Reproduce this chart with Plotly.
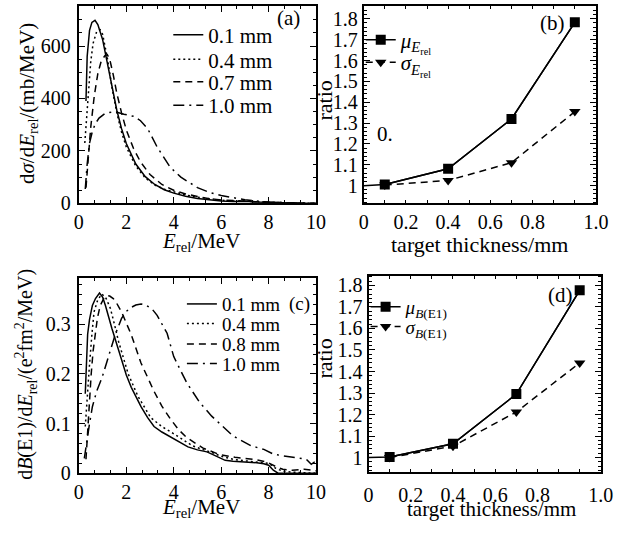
import plotly.graph_objects as go

FONT = "Liberation Serif"
W, H = 642, 537

# ---------------- panel (a): dσ/dE_rel (mb/MeV) ----------------
e_a01 = [0.30, 0.35, 0.45, 0.55, 0.68, 0.80, 1.00, 1.20, 1.40, 1.60, 1.80, 2.00, 2.40, 2.80,
         3.20, 3.60, 4.00, 4.50, 5.00, 5.50, 6.00, 6.50, 7.00, 7.50, 8.00, 9.00, 10.0]
xs_a01 = [390, 560, 660, 690, 698, 682, 625, 535, 440, 355, 285, 228, 150, 102,
          72, 52, 39, 27, 19, 13, 9, 7, 8, 5, 3, 1, 0]

e_a04 = [0.25, 0.30, 0.40, 0.50, 0.60, 0.75, 0.90, 1.00, 1.20, 1.40, 1.60, 1.80, 2.00, 2.40,
         2.80, 3.20, 3.60, 4.00, 4.50, 5.00, 5.50, 6.00, 6.50, 7.00, 7.50, 8.00, 9.00, 10.0]
xs_a04 = [230, 300, 430, 540, 610, 655, 662, 645, 555, 440, 345, 272, 215, 142,
          97, 70, 54, 43, 32, 24, 17, 12, 9, 9, 6, 4, 1, 0]

e_a07 = [0.30, 0.40, 0.50, 0.65, 0.80, 0.95, 1.10, 1.20, 1.30, 1.45, 1.60, 1.80, 2.00, 2.30,
         2.60, 3.00, 3.50, 4.00, 4.50, 5.00, 5.50, 6.00, 6.50, 7.00, 7.50, 8.00, 9.00, 10.0]
xs_a07 = [60, 180, 290, 410, 495, 545, 563, 567, 550, 490, 420, 345, 280, 210,
          158, 110, 72, 50, 36, 26, 18, 13, 10, 9, 6, 4, 2, 0]

e_a10 = [0.27, 0.35, 0.45, 0.57, 0.70, 0.85, 1.10, 1.50, 1.90, 2.35, 2.60, 2.90, 3.30, 3.85,
         4.30, 5.00, 5.50, 6.00, 6.50, 7.00, 7.50, 8.00, 9.00, 10.0]
xs_a10 = [55, 150, 230, 275, 305, 325, 343, 350, 340, 331, 315, 285, 215, 138,
          100, 60, 42, 30, 22, 14, 9, 5, 2, 0]

# ---------------- panel (b): ratios vs target thickness ----------------
thick_mu = [0.0, 0.1, 0.4, 0.7, 1.0]
mu_erel = [1.000, 1.006, 1.081, 1.320, 1.783]
thick_sig = [0.1, 0.4, 0.7, 1.0]
sig_erel = [1.003, 1.025, 1.110, 1.355]

# ---------------- panel (c): dB(E1)/dE_rel ----------------
e_c01 = [0.27, 0.32, 0.37, 0.45, 0.57, 0.70, 0.87, 1.00, 1.12, 1.39, 1.60, 1.80, 2.00, 2.21,
         2.62, 2.90, 3.17, 3.50, 3.85, 4.26, 4.60, 5.00, 5.40, 5.63, 6.00, 6.17, 6.50, 7.00,
         7.50, 7.80, 8.00, 8.20, 8.40, 10.0]
b_c01 = [0.160, 0.240, 0.280, 0.310, 0.338, 0.352, 0.363, 0.355, 0.338, 0.292, 0.258, 0.226,
         0.198, 0.173, 0.134, 0.112, 0.094, 0.083, 0.074, 0.062, 0.053, 0.047, 0.043, 0.038,
         0.030, 0.026, 0.024, 0.023, 0.021, 0.019, 0.016, 0.006, 0.0, 0.0]

e_c04 = [0.27, 0.35, 0.44, 0.55, 0.64, 0.80, 0.98, 1.15, 1.33, 1.50, 1.67, 2.08, 2.49, 3.03,
         3.50, 3.85, 4.30, 4.80, 5.20, 5.60, 6.00, 6.50, 7.00, 7.50, 8.00, 8.30, 8.60, 9.00, 10.0]
b_c04 = [0.094, 0.160, 0.213, 0.280, 0.325, 0.350, 0.361, 0.352, 0.332, 0.300, 0.266, 0.200,
         0.155, 0.112, 0.094, 0.084, 0.070, 0.055, 0.048, 0.042, 0.034, 0.028, 0.025, 0.022,
         0.020, 0.010, 0.004, 0.002, 0.0]

e_c08 = [0.30, 0.37, 0.44, 0.52, 0.60, 0.70, 0.78, 0.90, 1.05, 1.20, 1.30, 1.45, 1.60, 1.80,
         2.00, 2.21, 2.62, 3.17, 3.50, 3.85, 4.20, 4.54, 5.22, 5.90, 6.58, 7.40, 7.95, 8.36,
         8.60, 9.00, 9.50, 10.0]
b_c08 = [0.028, 0.090, 0.147, 0.200, 0.246, 0.285, 0.312, 0.338, 0.352, 0.358, 0.357, 0.352,
         0.342, 0.325, 0.303, 0.279, 0.222, 0.165, 0.135, 0.110, 0.088, 0.072, 0.051, 0.038,
         0.032, 0.028, 0.022, 0.012, 0.008, 0.006, 0.008, 0.005]

e_c10 = [0.23, 0.30, 0.45, 0.57, 0.75, 0.98, 1.26, 1.53, 1.80, 2.00, 2.20, 2.40, 2.62, 2.85,
         3.10, 3.30, 3.72, 4.00, 4.54, 5.10, 5.60, 6.00, 6.50, 7.27, 7.80, 8.22, 9.04, 9.59,
         9.80, 10.0]
b_c10 = [0.030, 0.055, 0.100, 0.134, 0.165, 0.193, 0.239, 0.279, 0.312, 0.326, 0.334, 0.339,
         0.341, 0.338, 0.330, 0.318, 0.282, 0.235, 0.183, 0.142, 0.115, 0.098, 0.075, 0.055,
         0.048, 0.038, 0.032, 0.028, 0.018, 0.025]

# ---------------- panel (d): ratios vs target thickness ----------------
mu_be1 = [1.000, 1.003, 1.064, 1.295, 1.777]
sig_be1 = [1.000, 1.053, 1.212, 1.440]

# tick labels
x_thick_ticks = [0, 0.2, 0.4, 0.6, 0.8, 1.1]
x_thick_text = ["0", "0.2", "0.4", "0.6", "0.8", "1.0"]
ratio_ticks = [1.0, 1.1, 1.2, 1.3, 1.4, 1.5, 1.6, 1.7, 1.8]
ratio_text = ["1", "1.1", "1.2", "1.3", "1.4", "1.5", "1.6", "1.7", "1.8"]

thick_labels_a = ["0.1 mm", "0.4 mm", "0.7 mm", "1.0 mm"]
thick_labels_c = ["0.1 mm", "0.4 mm", "0.8 mm", "1.0 mm"]


def px(x):
    return x / W


def py(y):
    return 1 - y / H


DASHES = ["solid", "2px,3px", "7px,5px", "11px,5px,2px,5px"]
LW = 1.5

fig = go.Figure()

# legends: one per entry so each row sits where it should
legend_rows = {}
n_leg = 0


def new_legend(x, y, size):
    global n_leg
    n_leg += 1
    name = "legend" if n_leg == 1 else f"legend{n_leg}"
    legend_rows[name] = dict(
        x=px(x), y=py(y), xanchor="left", yanchor="middle",
        bgcolor="rgba(0,0,0,0)", borderwidth=0,
        font=dict(family=FONT, size=size, color="black"),
        itemwidth=30, tracegroupgap=0,
    )
    return name


# panel (a)
for xs, ys, dash, lab, row in zip([e_a01, e_a04, e_a07, e_a10],
                                  [xs_a01, xs_a04, xs_a07, xs_a10],
                                  DASHES, thick_labels_a, [35, 60, 83, 107]):
    fig.add_trace(go.Scatter(x=xs, y=ys, mode="lines", name=lab,
                             line=dict(color="black", width=LW, dash=dash),
                             xaxis="x", yaxis="y",
                             legend=new_legend(168, row, 21)))

# panel (b)
fig.add_trace(go.Scatter(x=thick_sig, y=sig_erel, mode="lines+markers",
                         name="<i>σ</i><sub><i>E</i><sub>rel</sub></sub>",
                         line=dict(color="black", width=LW, dash="7px,5px"),
                         marker=dict(symbol="triangle-down", size=10, color="black"),
                         xaxis="x2", yaxis="y2", legend=new_legend(366, 63, 21)))
fig.add_trace(go.Scatter(x=thick_mu, y=mu_erel, mode="lines", showlegend=False,
                         line=dict(color="black", width=LW), xaxis="x2", yaxis="y2"))
fig.add_trace(go.Scatter(x=thick_mu[1:], y=mu_erel[1:], mode="lines+markers",
                         name="<i>μ</i><sub><i>E</i><sub>rel</sub></sub>",
                         line=dict(color="black", width=LW),
                         marker=dict(symbol="square", size=10, color="black"),
                         xaxis="x2", yaxis="y2", legend=new_legend(366, 40, 21)))

# panel (c)
for xs, ys, dash, lab, row in zip([e_c01, e_c04, e_c08, e_c10],
                                  [b_c01, b_c04, b_c08, b_c10],
                                  DASHES, thick_labels_c, [310, 330, 351, 371]):
    fig.add_trace(go.Scatter(x=xs, y=ys, mode="lines", name=lab,
                             line=dict(color="black", width=LW, dash=dash),
                             xaxis="x3", yaxis="y3",
                             legend=new_legend(182, row, 19)))

# panel (d)
fig.add_trace(go.Scatter(x=thick_sig, y=sig_be1, mode="lines+markers",
                         name="<i>σ</i><sub><i>B</i>(E1)</sub>",
                         line=dict(color="black", width=LW, dash="7px,5px"),
                         marker=dict(symbol="triangle-down", size=10, color="black"),
                         xaxis="x4", yaxis="y4", legend=new_legend(371, 333, 19)))
fig.add_trace(go.Scatter(x=thick_mu, y=mu_be1, mode="lines", showlegend=False,
                         line=dict(color="black", width=LW), xaxis="x4", yaxis="y4"))
fig.add_trace(go.Scatter(x=thick_mu[1:], y=mu_be1[1:], mode="lines+markers",
                         name="<i>μ</i><sub><i>B</i>(E1)</sub>",
                         line=dict(color="black", width=LW),
                         marker=dict(symbol="square", size=10, color="black"),
                         xaxis="x4", yaxis="y4", legend=new_legend(371, 313, 19)))

tickfont = dict(family=FONT, size=20, color="black")


def axis(domain, rng, anchor, **kw):
    d = dict(domain=domain, range=rng, anchor=anchor, showgrid=False, zeroline=False,
             showline=True, linecolor="black", linewidth=2, mirror="allticks",
             ticks="inside", ticklen=6, tickwidth=1.2, tickcolor="black",
             tickfont=tickfont, fixedrange=True)
    d.update(kw)
    return d


def minor(step, start=0):
    return dict(dtick=step, tick0=start, ticklen=3, ticks="inside", tickcolor="black")


xa_dom = [px(76), px(320)]
ya_dom = [py(207), py(5)]
xb_dom = [px(369), px(608)]
xc_dom = [px(76), px(320)]
yc_dom = [py(483), py(283)]
xd_dom = [px(374), px(613)]
yd_dom = [py(482), py(281)]

fig.update_layout(
    width=W, height=H, margin=dict(l=0, r=0, t=0, b=0),
    paper_bgcolor="white", plot_bgcolor="white",
    font=dict(family=FONT, size=20, color="black"),
    xaxis=axis(xa_dom, [0, 10], "y", tickvals=[0, 2, 4, 6, 8, 10], minor=minor(2 / 3)),
    yaxis=axis(ya_dom, [0, 753], "x", tickvals=[0, 200, 400, 600], minor=minor(50),
               ticklabelstandoff=2),
    xaxis2=axis(xb_dom, [0, 1.1], "y2", tickvals=x_thick_ticks, ticktext=x_thick_text,
                ticklen=3, minor=minor(0.1)),
    yaxis2=axis(ya_dom, [0.915, 1.862], "x2", tickvals=ratio_ticks, ticktext=ratio_text,
                minor=minor(0.02, 1.0)),
    xaxis3=axis(xc_dom, [0, 10], "y3", tickvals=[0, 2, 4, 6, 8, 10], minor=minor(2 / 3)),
    yaxis3=axis(yc_dom, [0, 0.394], "x3", tickvals=[0, 0.1, 0.2, 0.3],
                ticktext=["0", "0.1", "0.2", "0.3"], minor=minor(0.02), ticklabelstandoff=2),
    xaxis4=axis(xd_dom, [0, 1.1], "y4", tickvals=x_thick_ticks, ticktext=x_thick_text,
                ticklen=3, minor=minor(0.1), ticklabelstandoff=4),
    yaxis4=axis(yd_dom, [0.932, 1.845], "x4", tickvals=ratio_ticks, ticktext=ratio_text,
                minor=minor(0.02, 1.0)),
    **legend_rows,
)


def note(text, x, y, size=20, angle=0, xanchor="center"):
    fig.add_annotation(text=text, x=px(x), y=py(y), xref="paper", yref="paper",
                       showarrow=False, textangle=angle, xanchor=xanchor, yanchor="middle",
                       font=dict(family=FONT, size=size, color="black"))


# axis titles
note("<i>E</i><sub>rel</sub>/MeV", 202, 247, size=21)
note("<i>E</i><sub>rel</sub>/MeV", 202, 519, size=21)
note("target thickness/mm", 488, 249, size=22)
note("target thickness/mm", 501, 520, size=21)
note("d<i>σ</i>/d<i>E</i><sub>rel</sub>/(mb/MeV)", 23, 105, size=21, angle=-90)
note("d<i>B</i>(E1)/d<i>E</i><sub>rel</sub>/(e<sup>2</sup>fm<sup>2</sup>/MeV)", 22, 382,
     angle=-90)
note("ratio", 329, 102, size=22, angle=-90)
note("ratio", 329, 366, size=22, angle=-90)

# panel tags
note("(a)", 292, 17, size=21)
note("(b)", 563, 22, size=21)
note("(c)", 303, 310, size=19)
note("(d)", 572, 301, size=21)
note("0.", 391, 136, size=21)

fig.write_html("out.html")
